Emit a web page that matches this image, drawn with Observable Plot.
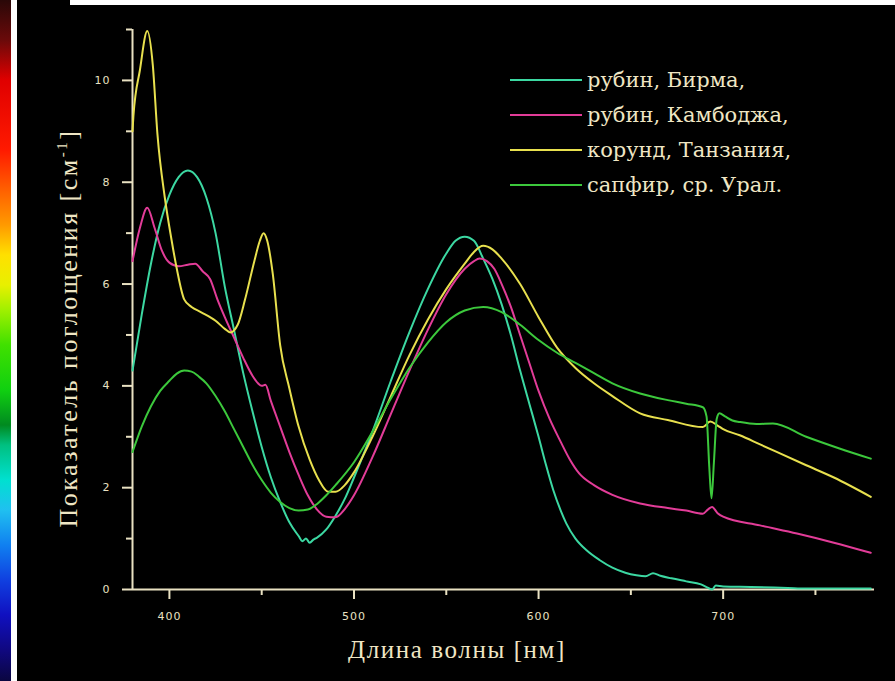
<!DOCTYPE html>
<html>
<head>
<meta charset="utf-8">
<script src="https://cdn.jsdelivr.net/npm/d3@7"></script>
<script src="https://cdn.jsdelivr.net/npm/@observablehq/plot@0.6"></script>
<style>
  html, body { margin: 0; padding: 0; background: #000; }
  #wrap { position: relative; width: 895px; height: 681px; overflow: hidden; background: #000; }
  #strip { position: absolute; left: 0; top: 0; width: 11px; height: 681px;
    background: linear-gradient(to bottom, #2a0808 0px, #6a0a0a 40px, #e00000 80px, #ff1a00 150px, #ff6000 190px, #ff9a00 225px, #ffe000 255px, #e8f000 285px, #a0f000 310px, #40e000 345px, #10d010 390px, #008a20 425px, #00c080 445px, #00e0d0 480px, #20c0f0 510px, #1080f0 545px, #1040e0 580px, #1010c0 615px, #100880 650px, #0a0640 681px); }
  #wstrip { position: absolute; left: 11px; top: 0; width: 6px; height: 681px; background: #fff; }
  #wtop { position: absolute; left: 70px; top: 0; width: 825px; height: 5px; background: #fff; }
  #chart { position: absolute; left: 0; top: 0; }
  #legend { position: absolute; left: 510px; top: 62px; font-family: "DejaVu Serif", serif; font-size: 21px; color: #efe6c4; }
  .row { display: flex; align-items: center; height: 35px; }
  .row svg { margin-right: 5px; }
</style>
</head>
<body>
<div id="wrap">
  <div id="chart"></div>
  <div id="strip"></div>
  <div id="wstrip"></div>
  <div id="wtop"></div>
  <div id="legend"></div>
</div>
<script>
// ---- data (wavelength nm, absorption coefficient cm^-1) ----
const seriesNames = ["рубин, Бирма,", "рубин, Камбоджа,", "корунд, Танзания,", "сапфир, ср. Урал."];
const seriesColors = ["#3cd8a2", "#e23c98", "#e8e04e", "#3cc83c"];

const burma = [[380,4.3],[385,5.4],[390,6.4],[395,7.2],[400,7.75],[405,8.1],[410,8.23],[415,8.1],[420,7.7],[425,7.0],[430,5.95],[435,5.1],[440,4.25],[445,3.5],[450,2.8],[455,2.2],[460,1.72],[465,1.32],[470,1.05],[472,0.95],[474,1.0],[476,0.92],[478,0.98],[480,1.02],[485,1.18],[490,1.45],[495,1.78],[500,2.2],[510,3.1],[520,4.1],[530,5.05],[540,5.9],[550,6.6],[555,6.85],[560,6.93],[565,6.85],[570,6.5],[575,6.1],[580,5.6],[585,5.0],[590,4.3],[595,3.65],[600,3.0],[604,2.45],[608,1.95],[612,1.55],[615,1.3],[620,1.0],[626,0.77],[633,0.58],[640,0.43],[647,0.33],[653,0.28],[658,0.26],[662,0.32],[666,0.27],[672,0.22],[680,0.16],[688,0.1],[692,0.03],[694,0.0],[696,0.08],[700,0.06],[715,0.05],[735,0.03],[745,0.02],[780,0.02]];

const cambodia = [[380,6.45],[384,7.1],[388,7.5],[392,7.1],[396,6.65],[400,6.42],[405,6.35],[410,6.38],[414,6.4],[418,6.25],[422,6.1],[426,5.7],[430,5.35],[435,4.95],[440,4.55],[445,4.2],[448,4.05],[450,4.0],[452,4.02],[455,3.7],[460,3.2],[465,2.7],[470,2.25],[475,1.85],[480,1.57],[485,1.43],[490,1.42],[495,1.58],[500,1.85],[510,2.6],[520,3.45],[530,4.3],[540,5.1],[550,5.8],[560,6.3],[565,6.45],[568,6.5],[572,6.45],[576,6.3],[580,6.0],[585,5.55],[590,5.0],[595,4.45],[600,3.9],[606,3.35],[612,2.9],[617,2.55],[622,2.28],[630,2.05],[640,1.86],[655,1.69],[670,1.6],[680,1.55],[689,1.49],[692,1.58],[694,1.62],[697,1.5],[700,1.43],[720,1.26],[740,1.1],[760,0.92],[780,0.72]];

const tanzania = [[380,9.0],[380.5,9.3],[384,10.2],[388,10.97],[391,10.3],[393.5,8.95],[397.5,7.7],[401,6.9],[404,6.3],[408,5.7],[412,5.55],[417,5.45],[425,5.28],[430,5.12],[433,5.05],[437,5.2],[441,5.7],[446,6.45],[449,6.85],[451,7.0],[453,6.85],[456,6.2],[460,4.8],[465,3.95],[470,3.2],[476,2.55],[481,2.15],[486,1.92],[490,1.92],[495,2.05],[500,2.3],[510,3.0],[520,3.8],[530,4.6],[540,5.3],[550,5.9],[560,6.4],[565,6.63],[570,6.75],[575,6.68],[580,6.5],[590,6.0],[600,5.35],[610,4.75],[620,4.35],[630,4.05],[640,3.8],[655,3.46],[670,3.33],[689,3.19],[693,3.3],[697,3.22],[700,3.15],[709,3.03],[720,2.85],[745,2.44],[760,2.2],[780,1.82]];

const ural = [[380,2.7],[385,3.2],[390,3.6],[395,3.9],[400,4.1],[404,4.24],[408,4.3],[412,4.28],[416,4.18],[420,4.05],[425,3.8],[430,3.5],[435,3.15],[440,2.8],[445,2.45],[450,2.15],[455,1.9],[460,1.72],[465,1.6],[470,1.55],[475,1.57],[480,1.68],[485,1.85],[490,2.05],[500,2.5],[510,3.1],[520,3.75],[530,4.35],[540,4.85],[550,5.25],[560,5.48],[570,5.55],[580,5.45],[590,5.2],[600,4.9],[610,4.65],[620,4.45],[630,4.25],[640,4.05],[655,3.85],[670,3.72],[680,3.65],[689,3.58],[691,3.4],[692.5,2.4],[693.7,1.79],[695,2.5],[696.5,3.35],[698,3.46],[701,3.4],[705,3.32],[709,3.29],[718,3.25],[727,3.26],[745,3.0],[763,2.77],[780,2.57]];

const xDomain = [380, 782];
const yDomain = [0, 11];
const xMajorTicks = [400, 500, 600, 700];
const xMinorTicks = [450, 550, 650, 750];
const yMajorTicks = [0, 2, 4, 6, 8, 10];
const yMinorTicks = [1, 3, 5, 7, 9, 11];
const xTitle = "Длина волны [нм]";
const yTitleMain = "Показатель поглощения [см";
const yTitleSup = "-1";
const yTitleEnd = "]";

// ---- build table ----
const allSeries = [burma, cambodia, tanzania, ural];
const rows = [];
allSeries.forEach((s, i) => s.forEach(([nm, v]) => rows.push({series: seriesNames[i], nm, v})));

const ink = "#e9e1c2";
const tickFont = "DejaVu Sans, sans-serif";

const chart = Plot.plot({
  width: 895,
  height: 681,
  marginLeft: 132,
  marginRight: 21,
  marginTop: 29,
  marginBottom: 92,
  style: {background: "#000", color: ink, fontFamily: tickFont, fontSize: "11px"},
  x: {domain: xDomain, label: null},
  y: {domain: yDomain, label: null},
  color: {domain: seriesNames, range: seriesColors},
  marks: [
    Plot.axisX({ticks: xMajorTicks, tickSize: 10, tickPadding: 13, strokeWidth: 2, label: null, fontSize: 11}),
    Plot.axisX({ticks: xMinorTicks, tickSize: 6, tickFormat: () => "", strokeWidth: 2, label: null}),
    Plot.axisY({ticks: yMajorTicks, tickSize: 10, tickPadding: 12, strokeWidth: 2, label: null, fontSize: 11}),
    Plot.axisY({ticks: yMinorTicks, tickSize: 6, tickFormat: () => "", strokeWidth: 2, label: null}),
    Plot.ruleX([xDomain[0]], {y1: yDomain[0], y2: yDomain[1], stroke: ink, strokeWidth: 2}),
    Plot.ruleY([yDomain[0]], {x1: xDomain[0], x2: xDomain[1], stroke: ink, strokeWidth: 2}),
    Plot.line(rows, {x: "nm", y: "v", z: "series", stroke: "series", strokeWidth: 2, curve: "monotone-x"})
  ]
});
document.getElementById("chart").appendChild(chart);
d3.select(chart).selectAll("g[aria-label='x-axis tick label'] text, g[aria-label='y-axis tick label'] text")
  .style("letter-spacing", "1px");

// axis titles
const svg = d3.select(chart);
svg.append("text")
  .attr("x", 457).attr("y", 658)
  .attr("text-anchor", "middle")
  .attr("fill", "#efe6c4")
  .style("font-family", "Liberation Serif, serif")
  .style("font-size", "25px")
  .style("letter-spacing", "1.6px")
  .text(xTitle);
const yt = svg.append("text")
  .attr("transform", "translate(77,328) rotate(-90)")
  .attr("text-anchor", "middle")
  .attr("fill", "#efe6c4")
  .style("font-family", "Liberation Serif, serif")
  .style("font-size", "26px")
  .style("letter-spacing", "2.5px");
yt.append("tspan").text(yTitleMain);
yt.append("tspan").attr("dy", "-10").style("font-size", "15px").text(yTitleSup);
yt.append("tspan").attr("dy", "10").text(yTitleEnd);

// legend
const legend = d3.select("#legend");
seriesNames.forEach((name, i) => {
  const r = legend.append("div").attr("class", "row");
  const s = r.append("svg").attr("width", 72).attr("height", 6);
  s.append("line").attr("x1", 0).attr("x2", 72).attr("y1", 3).attr("y2", 3)
    .attr("stroke", seriesColors[i]).attr("stroke-width", 2);
  r.append("span").text(name);
});
</script>
</body>
</html>
